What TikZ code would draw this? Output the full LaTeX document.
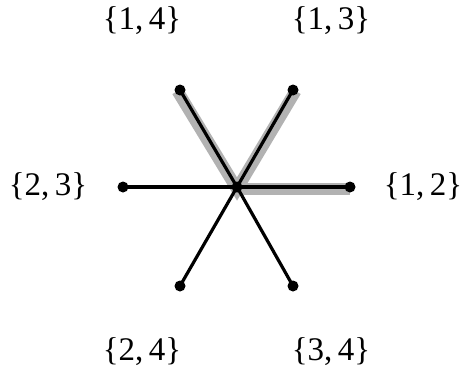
\documentclass[tikz,border=0pt]{standalone}
\usepackage{fontspec}
\setmainfont{Liberation Serif}
\begin{document}
\begin{tikzpicture}[x=1pt,y=-1pt,
  edge/.style={line width=3.2pt,black},
  hl/.style={line width=12pt,gray!60},
  dot/.style={circle,fill=black,inner sep=0pt,minimum size=11pt},
  lab/.style={font=\fontsize{33}{36}\selectfont}]
\useasboundingbox (0,0) rectangle (467,372);
\coordinate (c) at (237,187);
\coordinate (ul) at (180,90);
\coordinate (ur) at (293,90);
\coordinate (r) at (350,187);
\coordinate (l) at (123,187);
\coordinate (dl) at (180,286);
\coordinate (dr) at (293,286);
% highlight
\draw[hl,line cap=butt] ([shift={(-2.5,1)}]ul) -- ([shift={(0,2)}]c) -- ([shift={(2.5,1)}]ur);
\draw[hl,line cap=butt] ([shift={(0,2)}]c) -- ([shift={(0,2)}]r);
% edges
\foreach \p in {ul,ur,r,l,dl,dr} \draw[edge] (c) -- (\p);
\foreach \p/\n in {c/nc,ul/nul,ur/nur,r/nr,l/nl,dl/ndl,dr/ndr} \node[dot] (\n) at (\p) {};
\node[lab] (t14) at (142,21) {\{1,\,4\}};
\node[lab] (t13) at (331,21) {\{1,\,3\}};
\node[lab] (t23) at (48,187) {\{2,\,3\}};
\node[lab] (t12) at (423,187) {\{1,\,2\}};
\node[lab] (t24) at (142,352) {\{2,\,4\}};
\node[lab] (t34) at (331,352) {\{3,\,4\}};
\end{tikzpicture}
\end{document}
